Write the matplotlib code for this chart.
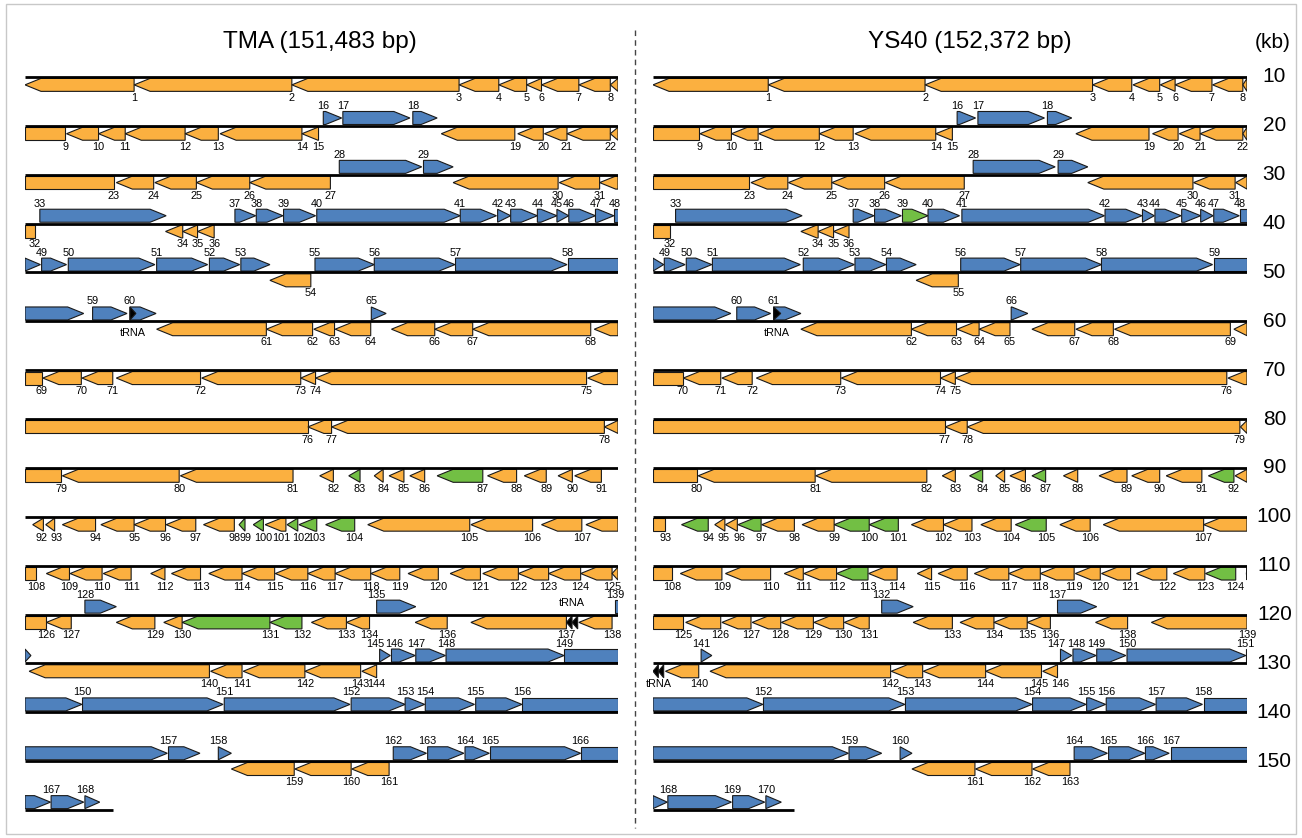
import math
import matplotlib
matplotlib.use("Agg")
import matplotlib.pyplot as plt
from matplotlib import font_manager
from matplotlib.patches import Polygon, Rectangle
from matplotlib.lines import Line2D

plt.rcParams['font.family'] = ['Liberation Sans', 'DejaVu Sans']

# ---------------- TMA genome (kb) ----------------
tma_length = 151.483
tma_start = [0.00, 1.84, 4.50, 7.32, 7.99, 8.46, 8.71, 9.34, 9.87, 10.70,
             11.24, 11.69, 12.70, 13.29, 14.67, 15.03, 15.36, 16.54, 17.02, 18.31,
             18.76, 19.14, 19.87, 21.54, 22.19, 22.89, 23.79, 25.30, 26.72, 27.22,
             29.01, 29.69, 30.25, 32.37, 32.66, 32.91, 33.54, 33.90, 34.36, 34.92,
             37.34, 37.97, 38.19, 38.64, 38.97, 39.17, 39.62, 39.94, 40.28, 40.73,
             42.22, 43.11, 43.64, 44.13, 44.89, 45.89, 47.26, 49.16, 51.14, 51.77,
             52.22, 54.07, 54.87, 55.23, 55.84, 56.18, 56.91, 57.55, 59.60, 60.30,
             60.96, 61.54, 62.98, 64.65, 64.90, 69.49, 74.77, 75.17, 79.77, 80.63,
             82.62, 84.97, 85.46, 85.89, 86.14, 86.49, 86.95, 87.80, 88.42, 88.99,
             89.27, 90.13, 90.35, 90.63, 91.28, 91.84, 92.38, 93.01, 93.61, 93.85,
             94.05, 94.42, 94.62, 95.07, 95.78, 97.52, 98.71, 99.46, 100.36, 100.76,
             101.32, 102.12, 102.47, 103.10, 103.66, 104.22, 104.77, 105.23, 105.83, 106.46,
             107.17, 107.72, 108.32, 108.83, 109.37, 109.90, 110.36, 111.01, 111.54, 112.34,
             112.65, 114.13, 114.83, 115.42, 115.93, 116.58, 117.52, 119.34, 119.95, 120.07,
             123.13, 123.68, 124.72, 125.68, 125.98, 126.18, 126.59, 127.10, 129.09, 130.97,
             133.36, 135.50, 136.41, 136.75, 137.60, 138.38, 142.42, 143.26, 143.48, 144.55,
             145.51, 146.21, 146.79, 147.42, 147.85, 149.37, 150.44, 151.01]
tma_end = [1.84, 4.50, 7.32, 7.99, 8.46, 8.71, 9.34, 9.87, 10.68, 11.24,
           11.69, 12.70, 13.26, 14.67, 14.95, 15.34, 16.49, 16.95, 18.26, 18.74,
           19.14, 19.87, 21.50, 22.17, 22.89, 23.79, 25.15, 26.69, 27.22, 28.99,
           29.69, 30.17, 32.38, 32.66, 32.91, 33.19, 33.89, 34.35, 34.90, 37.34,
           37.95, 38.19, 38.64, 38.97, 39.17, 39.62, 39.93, 40.26, 40.70, 42.19,
           43.08, 43.62, 44.13, 44.82, 45.89, 47.25, 49.14, 50.99, 51.72, 52.21,
           54.07, 54.85, 55.22, 55.83, 56.09, 56.91, 57.55, 59.54, 60.28, 60.95,
           61.48, 62.96, 64.65, 64.90, 69.47, 74.77, 75.17, 79.77, 80.61, 82.60,
           84.52, 85.20, 85.65, 86.04, 86.39, 86.74, 87.72, 88.29, 88.79, 89.23,
           89.72, 90.31, 90.50, 91.19, 91.84, 92.37, 92.88, 93.53, 93.71, 94.02,
           94.40, 94.60, 94.92, 95.56, 97.50, 98.56, 99.39, 100.19, 100.75, 101.30,
           101.79, 102.36, 102.96, 103.66, 104.21, 104.77, 105.23, 105.83, 106.32, 106.97,
           107.68, 108.32, 108.83, 109.37, 109.90, 110.35, 110.78, 111.54, 112.19, 112.65,
           114.13, 114.67, 115.42, 115.81, 116.59, 117.12, 119.13, 119.90, 120.10, 123.11,
           123.66, 124.72, 125.66, 125.93, 126.16, 126.58, 127.09, 129.09, 130.96, 133.34,
           135.48, 136.41, 136.74, 137.58, 138.38, 142.40, 142.95, 143.48, 144.54, 145.50,
           146.14, 146.77, 147.40, 147.83, 149.37, 150.43, 150.99, 151.26]
tma_forward = [16, 17, 18, 28, 29, 33, 37, 38, 39, 40, 41, 42, 43, 44, 45, 46, 47,
               48, 49, 50, 51, 52, 53, 55, 56, 57, 58, 59, 60, 65, 128, 135, 139,
               145, 146, 147, 148, 149, 150, 151, 152, 153, 154, 155, 156, 157, 158,
               162, 163, 164, 165, 166, 167, 168]
tma_green = [83, 87, 99, 100, 102, 103, 104, 131, 132]
tma_trna_start = [51.77, 119.13]
tma_trna_end = [51.87, 119.32]
tma_trna_fwd = [True, False]
tma_trna_label = ['below', 'above']
tma_label_shift = {92: -0.04, 93: 0.03, 101: -0.07, 102: 0.05, 145: -0.07, 146: 0.05}

# ---------------- YS40 genome (kb) ----------------
ys_length = 152.372
ys_start = [0.00, 1.94, 4.58, 7.40, 8.08, 8.54, 8.79, 9.42, 9.93, 10.79,
            11.32, 11.78, 12.80, 13.40, 14.76, 15.12, 15.47, 16.64, 17.12, 18.41,
            18.86, 19.21, 19.93, 21.65, 22.28, 23.01, 23.91, 25.39, 26.82, 27.32,
            29.10, 29.81, 30.38, 32.49, 32.78, 33.04, 33.37, 33.73, 34.20, 34.63,
            35.20, 37.61, 38.24, 38.45, 38.90, 39.22, 39.44, 39.88, 40.19, 40.56,
            41.00, 42.53, 43.40, 43.93, 44.43, 45.18, 46.19, 47.55, 49.45, 51.41,
            52.03, 52.49, 54.35, 55.12, 55.49, 56.03, 56.38, 57.12, 57.77, 59.78,
            60.51, 61.16, 61.74, 63.17, 64.84, 65.09, 69.68, 74.92, 75.29, 79.89,
            80.76, 82.74, 84.87, 85.33, 85.77, 86.01, 86.38, 86.91, 87.51, 88.06,
            88.64, 89.35, 89.80, 90.48, 91.04, 91.22, 91.43, 91.83, 92.51, 93.05,
            93.64, 94.35, 94.89, 95.52, 96.10, 96.85, 97.58, 99.27, 100.46, 101.22,
            102.21, 102.54, 103.09, 103.63, 104.45, 104.80, 105.41, 105.99, 106.52, 107.11,
            107.55, 108.14, 108.76, 109.30, 109.99, 110.55, 111.16, 111.67, 112.16, 112.71,
            113.22, 113.85, 114.38, 115.17, 115.74, 116.30, 116.81, 117.45, 118.39, 120.21,
            120.81, 120.96, 124.01, 124.55, 125.60, 126.56, 126.86, 127.07, 127.47, 127.98,
            129.98, 131.86, 134.25, 136.39, 137.30, 137.63, 138.47, 139.27, 143.30, 144.16,
            144.36, 145.43, 146.39, 147.09, 147.67, 148.29, 148.72, 150.25, 151.34, 151.90]
ys_end = [1.94, 4.58, 7.40, 8.06, 8.53, 8.79, 9.41, 9.93, 10.78, 11.32,
          11.77, 12.80, 13.37, 14.76, 15.04, 15.43, 16.59, 17.05, 18.35, 18.84,
          19.21, 19.93, 21.62, 22.27, 23.01, 23.90, 25.24, 26.77, 27.32, 29.09,
          29.80, 30.28, 32.51, 32.78, 33.04, 33.30, 33.72, 34.18, 34.63, 35.16,
          37.60, 38.23, 38.44, 38.89, 39.22, 39.43, 39.87, 40.18, 40.54, 40.99,
          42.48, 43.39, 43.92, 44.43, 45.14, 46.18, 47.55, 49.42, 51.31, 51.98,
          52.49, 54.35, 55.11, 55.49, 56.01, 56.31, 57.10, 57.75, 59.72, 60.50,
          61.14, 61.67, 63.16, 64.84, 65.09, 69.66, 74.91, 75.29, 79.88, 80.74,
          82.73, 84.61, 85.09, 85.55, 85.92, 86.27, 86.61, 87.15, 87.98, 88.53,
          89.24, 89.78, 90.21, 90.93, 91.21, 91.42, 91.82, 92.38, 93.05, 93.64,
          94.13, 94.89, 95.37, 96.03, 96.62, 97.36, 99.27, 100.32, 101.16, 101.98,
          102.53, 103.09, 103.62, 104.11, 104.69, 105.29, 105.99, 106.52, 107.09, 107.53,
          108.04, 108.65, 109.29, 109.81, 110.51, 111.14, 111.65, 112.15, 112.70, 113.21,
          113.64, 114.38, 115.04, 115.74, 116.30, 116.69, 117.47, 117.99, 120.00, 120.77,
          120.99, 124.00, 124.54, 125.60, 126.54, 126.81, 127.05, 127.46, 127.96, 129.98,
          131.85, 134.24, 136.38, 137.29, 137.62, 138.46, 139.25, 143.29, 143.85, 144.36,
          145.42, 146.38, 147.02, 147.65, 148.28, 148.69, 150.24, 151.32, 151.88, 152.16]
ys_forward = [16, 17, 18, 28, 29, 33, 37, 38, 39, 40, 41, 42, 43, 44, 45, 46, 47,
              48, 49, 50, 51, 52, 53, 54, 56, 57, 58, 59, 60, 61, 66, 132, 137, 141,
              147, 148, 149, 150, 151, 152, 153, 154, 155, 156, 157, 158, 159, 160,
              164, 165, 166, 167, 168, 169, 170]
ys_green = [39, 84, 87, 92, 94, 97, 100, 101, 105, 113, 124]
ys_trna_start = [52.03, 120.00]
ys_trna_end = [52.15, 120.18]
ys_trna_fwd = [True, False]
ys_trna_label = ['below', 'below']
ys_label_shift = {95: -0.03, 96: 0.03, 147: -0.07, 148: 0.05, 145: -0.04, 146: 0.04}

ORANGE = '#FBB040'
BLUE = '#4F81BD'
GREEN = '#72BF44'
EDGE = '#1a1a1a'

ROW_KB = 10.0
H = 0.266     # arrow height (row units)
GAP = 0.028   # half of the line thickness
HEAD = 0.27   # arrow head length (kb)


def font_ok(name):
    try:
        font_manager.findfont(font_manager.FontProperties(family=name),
                              fallback_to_default=False)
        return True
    except Exception:
        return False


if font_ok('Liberation Sans Narrow'):
    LBL = dict(family=['Liberation Sans Narrow', 'DejaVu Sans'], fontsize=8.6)
else:
    LBL = dict(fontsize=7.8)


def draw_arrow(ax, x0, x1, row, fwd, head, color, z=2):
    if fwd:
        yb, yt = row - GAP, row - GAP - H
    else:
        yb, yt = row + GAP, row + GAP + H
    ym = (yb + yt) / 2
    hl = min(HEAD, x1 - x0) if head else 0.0
    if fwd:
        pts = [(x0, yb), (x1 - hl, yb), (x1, ym), (x1 - hl, yt), (x0, yt)]
    else:
        pts = [(x1, yb), (x0 + hl, yb), (x0, ym), (x0 + hl, yt), (x1, yt)]
    ax.add_patch(Polygon(pts, closed=True, fc=color, ec=EDGE, lw=0.8,
                         joinstyle='miter', zorder=z))


def draw_genome(ax, starts, ends, forward, green, length,
                t_start, t_end, t_fwd, t_label, shift):
    nrows = int(math.ceil(length / ROW_KB))
    for r in range(nrows):
        ax.plot([0, min(ROW_KB, length - r * ROW_KB)], [r, r], color='black',
                lw=2.0, solid_capstyle='butt', zorder=4)

    for i, (a, b) in enumerate(zip(starts, ends)):
        num = i + 1
        fwd = num in forward
        if num in green:
            col = GREEN
        elif fwd:
            col = BLUE
        else:
            col = ORANGE
        r0 = int(math.floor(a / ROW_KB))
        r1 = int(math.ceil(b / ROW_KB - 1e-9)) - 1
        for r in range(r0, r1 + 1):
            x0 = max(a, r * ROW_KB) - r * ROW_KB
            x1 = min(b, (r + 1) * ROW_KB) - r * ROW_KB
            if x1 - x0 < 1e-6:
                continue
            head = (fwd and r == r1) or ((not fwd) and r == r0)
            draw_arrow(ax, x0, x1, r, fwd, head, col)
        # gene number at its 5' end
        dx = shift.get(num, 0.0)
        if fwd:
            ax.text(a - r0 * ROW_KB + dx, r0 - GAP - H - 0.01, str(num), ha='center',
                    va='bottom', zorder=5, **LBL)
        else:
            ax.text(b - r1 * ROW_KB + dx, r1 + GAP + H + 0.03, str(num), ha='center',
                    va='top', zorder=5, **LBL)

    for a, b, fwd, side in zip(t_start, t_end, t_fwd, t_label):
        r = int(math.floor(a / ROW_KB))
        x0, x1 = a - r * ROW_KB, b - r * ROW_KB
        if fwd:
            draw_arrow(ax, x0, x1, r, fwd, True, 'black', z=3)
        else:
            xm = (x0 + x1) / 2
            draw_arrow(ax, x0, xm, r, fwd, True, 'black', z=3)
            draw_arrow(ax, xm, x1, r, fwd, True, 'black', z=3)
        xc = (x0 + x1) / 2
        same_side = (side == 'above') == fwd
        off = GAP + H + 0.03 if same_side else GAP + 0.1
        if side == 'below':
            ax.text(xc, r + off, 'tRNA', ha='center', va='top', zorder=5, **LBL)
        else:
            ax.text(xc, r - off, 'tRNA', ha='center', va='bottom', zorder=5, **LBL)

    ax.set_xlim(0, ROW_KB)
    ax.set_ylim(15.5, -0.5)
    ax.axis('off')


fig = plt.figure(figsize=(13.02, 8.38), dpi=100)
W, Hpx = 1302.0, 838.0
row_top = 77 - 48.87 * 0.5
row_bot = 810 + 48.87 * 0.5
ax_l = fig.add_axes([25 / W, 1 - row_bot / Hpx, 593 / W, (row_bot - row_top) / Hpx])
ax_r = fig.add_axes([653 / W, 1 - row_bot / Hpx, 594 / W, (row_bot - row_top) / Hpx])
for a in (ax_l, ax_r):
    a.patch.set_alpha(0)

draw_genome(ax_l, tma_start, tma_end, tma_forward, tma_green, tma_length,
            tma_trna_start, tma_trna_end, tma_trna_fwd, tma_trna_label, tma_label_shift)
draw_genome(ax_r, ys_start, ys_end, ys_forward, ys_green, ys_length,
            ys_trna_start, ys_trna_end, ys_trna_fwd, ys_trna_label, ys_label_shift)

# kb scale on the right
for r in range(15):
    ax_r.text(10.46, r, str((r + 1) * 10), ha='center', va='center', fontsize=15,
              clip_on=False)
fig.text(1273 / W, 1 - 42 / Hpx, '(kb)', ha='center', va='center', fontsize=15)

fig.text(320 / W, 1 - 42 / Hpx, 'TMA (151,483 bp)', ha='center', va='center', fontsize=17.5)
fig.text(970 / W, 1 - 42 / Hpx, 'YS40 (152,372 bp)', ha='center', va='center', fontsize=17.5)

# dashed divider and outer frame
fig.add_artist(Line2D([635 / W, 635 / W], [1 - 30 / Hpx, 1 - 828 / Hpx], color='#444444',
                      lw=1.0, ls=(0, (4, 3)), transform=fig.transFigure))
fig.add_artist(Rectangle((6 / W, 4 / Hpx), 1 - 12 / W, 1 - 8 / Hpx, fill=False,
                         ec='#c8c8c8', lw=1.0, transform=fig.transFigure))

fig.savefig('out.png', dpi=100, facecolor='white')
